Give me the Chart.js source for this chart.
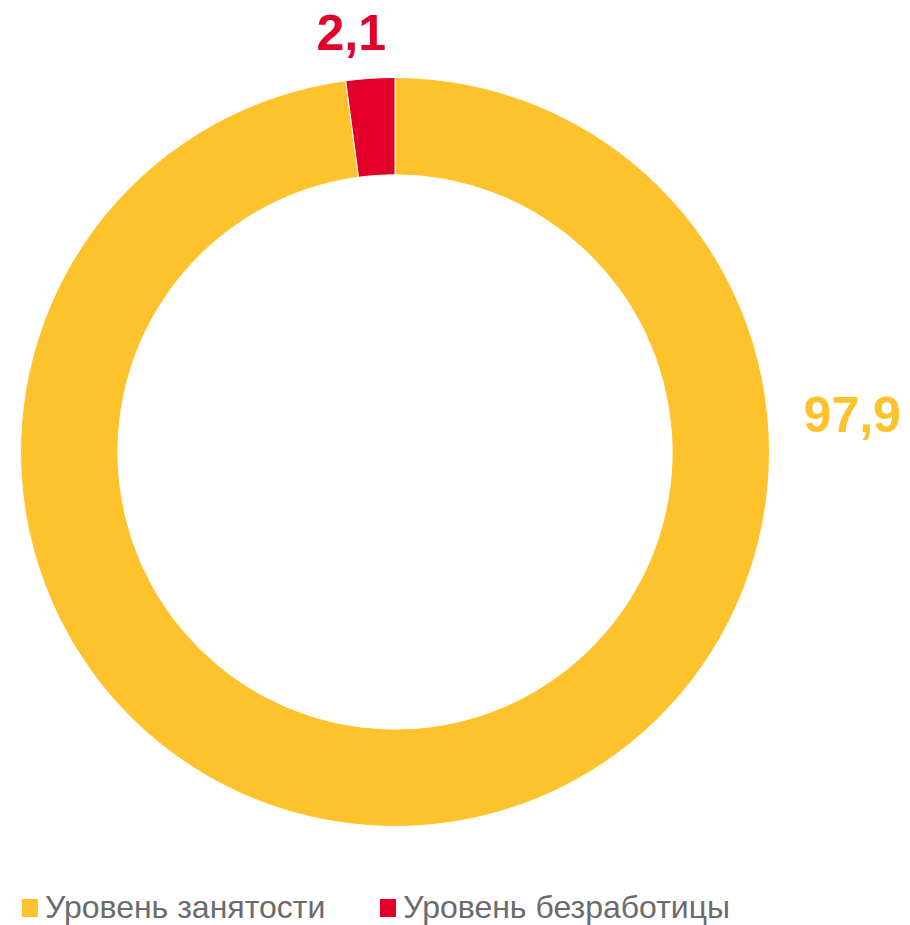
<!DOCTYPE html>
<html>
<head>
<meta charset="utf-8">
<script src="https://cdn.jsdelivr.net/npm/chart.js@4"></script>
<style>
  body { margin: 0; background: #fff; }
  #wrap { position: relative; width: 910px; height: 925px; }
  #box { position: absolute; left: 0; top: 0; width: 910px; height: 870px; }
  #legend { position: absolute; left: 22px; top: 889px; display: flex; align-items: center;
            font-family: 'Liberation Sans Narrow', 'Arial Narrow', 'Liberation Sans', sans-serif;
            font-size: 32px; color: #6b6b6b; white-space: nowrap; }
  .item { display: flex; align-items: center; margin-right: 55px; }
  .sw { width: 16px; height: 18px; margin-right: 7px; }
</style>
</head>
<body>
<div id="wrap">
  <div id="box"><canvas id="chart"></canvas></div>
  <div id="legend"></div>
</div>
<script>
const categories = ['Уровень занятости', 'Уровень безработицы'];
const values = [97.9, 2.1];
const valueLabels = ['97,9', '2,1'];
const colors = ['#fec22d', '#e2002b'];

// where each value label sits, relative to the ring (angle in degrees, extra distance past outer edge)
const labelAngles = [-4.2, -96];
const labelGaps = [84, 44];

const valueLabelPlugin = {
    id: 'valueLabels',
    afterDatasetsDraw(chart) {
        const ctx = chart.ctx;
        const arcs = chart.getDatasetMeta(0).data;
        ctx.save();
        ctx.font = 'bold 50px "Liberation Sans", Arial, sans-serif';
        ctx.textAlign = 'center';
        ctx.textBaseline = 'middle';
        arcs.forEach(function (arc, i) {
            const a = labelAngles[i] * Math.PI / 180;
            const r = arc.outerRadius + labelGaps[i];
            ctx.fillStyle = colors[i];
            ctx.fillText(valueLabels[i], arc.x + r * Math.cos(a), arc.y + r * Math.sin(a));
        });
        ctx.restore();
    }
};

new Chart(document.getElementById('chart'), {
    type: 'doughnut',
    data: {
        labels: categories,
        datasets: [{
            data: values,
            backgroundColor: colors,
            borderColor: '#ffffff',
            borderWidth: 1,
            hoverOffset: 0
        }]
    },
    options: {
        responsive: true,
        maintainAspectRatio: false,
        animation: false,
        cutout: '74%',
        layout: { padding: { top: 77, left: 20, right: 140, bottom: 43 } },
        plugins: {
            legend: { display: false },
            tooltip: { enabled: false }
        }
    },
    plugins: [valueLabelPlugin]
});

const legend = document.getElementById('legend');
categories.forEach(function (name, i) {
    const item = document.createElement('div');
    item.className = 'item';
    const sw = document.createElement('span');
    sw.className = 'sw';
    sw.style.background = colors[i];
    const txt = document.createElement('span');
    txt.textContent = name;
    item.appendChild(sw);
    item.appendChild(txt);
    legend.appendChild(item);
});
</script>
</body>
</html>
